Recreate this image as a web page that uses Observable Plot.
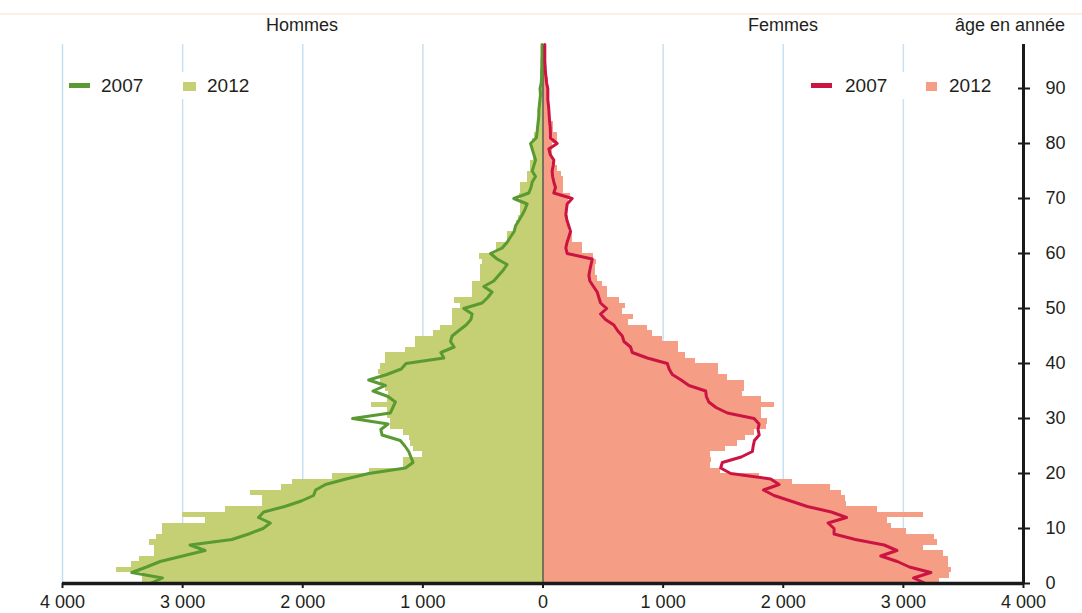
<!DOCTYPE html>
<html>
<head>
<meta charset="utf-8">
<script src="https://cdn.jsdelivr.net/npm/d3@7"></script>
<script src="https://cdn.jsdelivr.net/npm/@observablehq/plot@0.6"></script>
<style>
  html, body { margin: 0; padding: 0; background: #fff; }
  body { font-family: "Liberation Sans", Arial, sans-serif; }
  #wrap { position: relative; width: 1082px; height: 613px; overflow: hidden; background: #fff; }
  #wrap svg { position: absolute; left: 0; top: 0; }
  .txt { position: absolute; font-size: 18px; line-height: 1; color: #231f20; white-space: nowrap; }
  .leg { position: absolute; background: #fff; }
  .sw { position: absolute; }
</style>
</head>
<body>
<div id="wrap"></div>
<script>
// Ages 0..98
const ages = d3.range(0, 99);

// Hommes 2012 (bars)
const hommes2012 = [3330,3330,3554,3429,3360,3237,3237,3279,3215,3168,
  3168,2807,3000,2646,2332,2332,2438,2179,2082,1751,
  1446,1160,1160,1002,1080,1100,1110,1160,1271,1271,
  1293,1293,1429,1293,1290,1310,1354,1354,1373,1354,
  1312,1312,1146,1063,1063,910,854,757,757,757,
  690,737,590,590,590,521,521,521,507,527,
  387,387,299,293,221,221,200,188,188,188,
  195,188,188,127,127,104,104,76,76,90,
  90,71,49,49,35,35,35,26,26,21,
  21,12,12,12,12,8,8,8,8];

// Hommes 2007 (line)
const hommes2007 = [3271,3168,3423,3300,3187,3000,2813,2938,2590,2450,
  2330,2270,2368,2325,2150,2012,1910,1893,1810,1640,
  1450,1145,1082,1100,1118,1150,1188,1340,1350,1290,
  1585,1271,1250,1229,1290,1415,1312,1451,1300,1180,
  1140,826,850,740,770,757,700,640,600,590,
  660,507,460,424,493,410,370,330,299,382,
  437,340,300,271,240,229,201,174,150,132,
  243,118,100,90,62,90,76,62,76,90,
  104,56,49,45,40,35,35,30,25,21,
  25,15,12,12,10,10,8,8,8];

// Femmes 2012 (bars)
const femmes2012 = [3304,3380,3404,3373,3373,3335,3170,3280,3256,3022,
  2902,2868,3168,2786,2530,2520,2488,2396,2077,1800,
  1479,1396,1400,1396,1521,1618,1688,1757,1860,1870,
  1815,1815,1929,1815,1660,1674,1674,1540,1465,1465,
  1271,1188,1132,1132,993,910,868,715,750,660,
  688,640,540,540,493,457,437,437,446,424,
  332,332,243,243,215,215,215,200,215,215,
  225,174,174,170,150,118,104,76,76,76,
  124,124,90,90,62,62,62,57,57,49,
  49,49,29,29,29,21,21,21,21];

// Femmes 2007 (line)
const femmes2007 = [3187,3085,3229,3050,2950,2812,2946,2840,2600,2423,
  2423,2373,2527,2400,2200,2062,1923,1836,1965,1896,
  1563,1479,1493,1650,1743,1750,1760,1800,1790,1799,
  1757,1535,1440,1380,1360,1354,1215,1150,1076,1050,
  1035,868,743,729,674,660,620,590,520,479,
  530,479,465,451,420,390,382,390,400,410,
  201,190,200,215,229,215,200,190,195,201,
  243,90,104,90,80,76,85,90,60,49,
  118,62,62,60,55,52,49,45,40,40,
  40,30,25,20,18,15,15,15,15];

const xTicks = [-4000,-3000,-2000,-1000,0,1000,2000,3000,4000];
const gridX = [-4000,-3000,-2000,-1000,1000,2000,3000];
const yTicks = [0,10,20,30,40,50,60,70,80,90];

const rows = ages.map((a, i) => ({age: a, m12: hommes2012[i], m07: hommes2007[i], f12: femmes2012[i], f07: femmes2007[i]}));
const barRows = rows.filter(d => d.age < 98);
const fmt = d => d3.format(",")(Math.abs(d)).replace(/,/g, "\u00a0");

const chart = Plot.plot({
  width: 1082,
  height: 613,
  marginLeft: 62,
  marginRight: 59,
  marginTop: 44,
  marginBottom: 30,
  x: {domain: [-4000, 4000], axis: null},
  y: {domain: [0, 98], axis: null},
  style: {fontFamily: "'Liberation Sans', Arial, sans-serif", fontSize: "18px", color: "#1a1a1a", background: "transparent", overflow: "visible"},
  marks: [
    Plot.ruleX(gridX, {stroke: "#c6e1f3", strokeWidth: 1.5}),
    Plot.rect(barRows, {x1: 0, x2: d => -d.m12, y1: "age", y2: d => d.age + 1, fill: "#c5cf74", shapeRendering: "crispEdges"}),
    Plot.rect(barRows, {x1: 0, x2: "f12", y1: "age", y2: d => d.age + 1, fill: "#f59e85", shapeRendering: "crispEdges"}),
    Plot.ruleX([0], {stroke: "#5a5a52", strokeWidth: 1.5}),
    Plot.line(rows, {x: d => -d.m07, y: "age", stroke: "#5a9a32", strokeWidth: 3, strokeLinejoin: "round"}),
    Plot.line(rows, {x: "f07", y: "age", stroke: "#cc1443", strokeWidth: 3, strokeLinejoin: "round"}),
    Plot.ruleY([0], {stroke: "#1a1a1a", strokeWidth: 3.5}),
    Plot.ruleX([4000], {stroke: "#1a1a1a", strokeWidth: 3}),
    Plot.axisX({ticks: xTicks, tickFormat: fmt, tickSize: 5, tickPadding: 7, strokeWidth: 2, fill: "#231f20", label: null}),
    Plot.axisY({anchor: "right", ticks: yTicks, tickSize: 12, dx: -6, strokeWidth: 2, tickFormat: () => "", label: null}),
    Plot.axisY({anchor: "right", ticks: yTicks, tickSize: 0, tickPadding: 22, fill: "#231f20", label: null})
  ]
});

const wrap = document.getElementById("wrap");
wrap.appendChild(chart);

function addDiv(cls, css, text) {
  const el = document.createElement("div");
  el.className = cls;
  Object.assign(el.style, css);
  if (text != null) el.textContent = text;
  wrap.appendChild(el);
  return el;
}

// thin top separator
addDiv("sw", {left: "0px", top: "13px", width: "1082px", height: "2px", background: "#fcefe5"});

// headers
addDiv("txt", {left: "302px", top: "16px", transform: "translateX(-50%)"}, "Hommes");
addDiv("txt", {left: "783px", top: "16px", transform: "translateX(-50%)"}, "Femmes");
addDiv("txt", {left: "1065px", top: "16px", transform: "translateX(-100%)"}, "âge en année");

// legends (white boxes over the grid)
addDiv("leg", {left: "64px", top: "72px", width: "196px", height: "27px"});
addDiv("sw", {left: "69px", top: "83px", width: "21px", height: "5px", background: "#5a9a32"});
addDiv("txt", {left: "101px", top: "76px", fontSize: "19px"}, "2007");
addDiv("sw", {left: "183px", top: "82px", width: "13px", height: "9px", background: "#c5cf74"});
addDiv("txt", {left: "207px", top: "76px", fontSize: "19px"}, "2012");

addDiv("leg", {left: "802px", top: "72px", width: "196px", height: "27px"});
addDiv("sw", {left: "811px", top: "83px", width: "21px", height: "5px", background: "#cc1443"});
addDiv("txt", {left: "845px", top: "76px", fontSize: "19px"}, "2007");
addDiv("sw", {left: "926px", top: "82px", width: "11px", height: "9px", background: "#f59e85"});
addDiv("txt", {left: "949px", top: "76px", fontSize: "19px"}, "2012");
</script>
</body>
</html>
